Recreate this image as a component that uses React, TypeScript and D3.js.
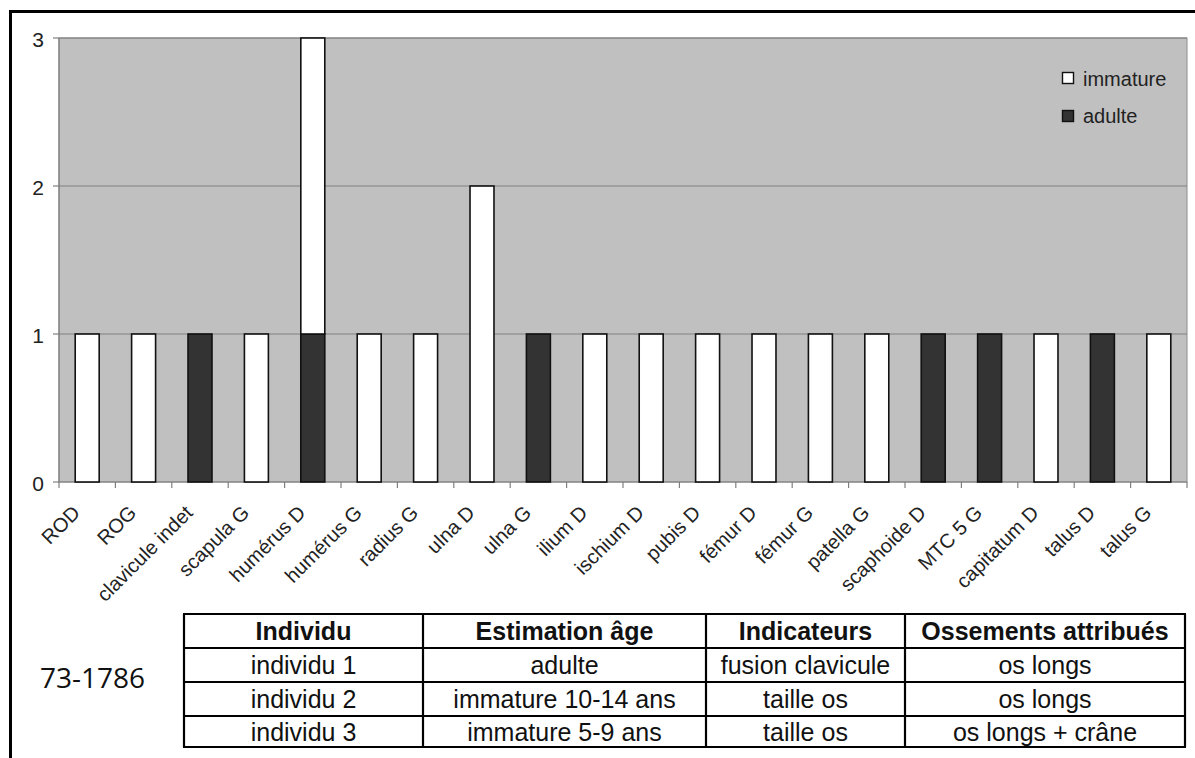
import * as d3 from 'd3';

const categories = [
  'ROD', 'ROG', 'clavicule indet', 'scapula G', 'humérus D', 'humérus G', 'radius G',
  'ulna D', 'ulna G', 'ilium D', 'ischium D', 'pubis D', 'fémur D', 'fémur G',
  'patella G', 'scaphoide D', 'MTC 5 G', 'capitatum D', 'talus D', 'talus G',
];
const adulte = [0, 0, 1, 0, 1, 0, 0, 0, 1, 0, 0, 0, 0, 0, 0, 1, 1, 0, 1, 0];
const immature = [1, 1, 0, 1, 2, 1, 1, 2, 0, 1, 1, 1, 1, 1, 1, 0, 0, 1, 0, 1];
const yTicks = [0, 1, 2, 3];

const tableHeader = ['Individu', 'Estimation âge', 'Indicateurs', 'Ossements attribués'];
const tableRows = [
  ['individu 1', 'adulte', 'fusion clavicule', 'os longs'],
  ['individu 2', 'immature 10-14 ans', 'taille os', 'os longs'],
  ['individu 3', 'immature 5-9 ans', 'taille os', 'os longs + crâne'],
];
const siteLabel = '73-1786';

const W = 1195;
const H = 758;
const plot = { left: 59, right: 1187, top: 38, bottom: 482 };
const colEdges = [184, 423, 706, 905, 1185];
const rowEdges = [614, 648, 682, 716, 747];

export default function App() {
  const x = d3.scaleBand<string>()
    .domain(categories)
    .range([plot.left, plot.right])
    .paddingInner(0.575)
    .paddingOuter(0.2875);
  const band = (plot.right - plot.left) / categories.length;
  const y = d3.scaleLinear().domain([0, 3]).range([plot.bottom, plot.top]);

  const font = 'Arial, "Liberation Sans", sans-serif';

  return (
    <svg width={W} height={H} style={{ position: 'absolute', left: 0, top: 0 }}
      fontFamily={font}>
      <rect x={0} y={0} width={W} height={H} fill="#fff" />
      {/* outer frame */}
      <rect x={10.5} y={11.5} width={W + 20} height={H + 20} fill="none" stroke="#000" strokeWidth={3} />

      {/* plot area */}
      <rect x={plot.left} y={plot.top} width={plot.right - plot.left} height={plot.bottom - plot.top}
        fill="#c0c0c0" stroke="#8c8c8c" strokeWidth={1} />
      {yTicks.filter(t => t > 0).map(t => (
        <line key={t} x1={plot.left} x2={plot.right} y1={y(t)} y2={y(t)} stroke="#808080" strokeWidth={1.2} />
      ))}

      {/* y axis */}
      <line x1={plot.left} x2={plot.left} y1={plot.top} y2={plot.bottom} stroke="#808080" strokeWidth={1.2} />
      {yTicks.map(t => (
        <g key={t}>
          <line x1={plot.left - 6} x2={plot.left} y1={y(t)} y2={y(t)} stroke="#808080" strokeWidth={1.2} />
          <text x={44} y={y(t) + 1} dy="0.36em" textAnchor="end" fontSize={21} fill="#222">{t}</text>
        </g>
      ))}

      {/* x axis */}
      <line x1={plot.left} x2={plot.right} y1={plot.bottom} y2={plot.bottom} stroke="#808080" strokeWidth={1.2} />
      {d3.range(categories.length + 1).map(i => (
        <line key={i} x1={plot.left + i * band} x2={plot.left + i * band} y1={plot.bottom} y2={plot.bottom + 6}
          stroke="#808080" strokeWidth={1.2} />
      ))}

      {/* bars */}
      {categories.map((c, i) => {
        const bx = x(c)!;
        const bw = x.bandwidth();
        return (
          <g key={c}>
            {adulte[i] > 0 && (
              <rect x={bx} y={y(adulte[i])} width={bw} height={y(0) - y(adulte[i])}
                fill="#333333" stroke="#111" strokeWidth={1.6} />
            )}
            {immature[i] > 0 && (
              <rect x={bx} y={y(adulte[i] + immature[i])} width={bw}
                height={y(adulte[i]) - y(adulte[i] + immature[i])}
                fill="#ffffff" stroke="#111" strokeWidth={1.6} />
            )}
          </g>
        );
      })}

      {/* category labels */}
      {categories.map(c => {
        const cx = x(c)! + x.bandwidth() / 2;
        return (
          <text key={c} transform={`translate(${cx - 6},${plot.bottom + 32}) rotate(-45)`}
            textAnchor="end" fontSize={20} fill="#222">{c}</text>
        );
      })}

      {/* legend */}
      <rect x={1062.5} y={72.5} width={11} height={11} fill="#fff" stroke="#111" strokeWidth={1.4} />
      <text x={1083} y={86} fontSize={20} fill="#222">immature</text>
      <rect x={1062.5} y={110.5} width={11} height={11} fill="#333" stroke="#111" strokeWidth={1.4} />
      <text x={1083} y={123} fontSize={20} fill="#222">adulte</text>

      {/* site label */}
      <text x={92.5} y={678} dy="0.36em" textAnchor="middle" fontSize={28}
        fontFamily='"Open Sans", "Noto Sans", sans-serif' fill="#111">{siteLabel}</text>

      {/* table */}
      <g>
        {[tableHeader, ...tableRows].map((row, r) => (
          row.map((cell, ci) => (
            <text key={`${r}-${ci}`} x={(colEdges[ci] + colEdges[ci + 1]) / 2}
              y={(rowEdges[r] + rowEdges[r + 1]) / 2} dy="0.36em" textAnchor="middle"
              fontSize={25} fontWeight={r === 0 ? 'bold' : 'normal'} fill="#111">{cell}</text>
          ))
        ))}
        {rowEdges.map((ry, i) => (
          <line key={`r${i}`} x1={colEdges[0] - 1} x2={colEdges[colEdges.length - 1] + 1} y1={ry} y2={ry}
            stroke="#000" strokeWidth={2.2} />
        ))}
        {colEdges.map((cx, i) => (
          <line key={`c${i}`} x1={cx} x2={cx} y1={rowEdges[0]} y2={rowEdges[rowEdges.length - 1]}
            stroke="#000" strokeWidth={2.2} />
        ))}
      </g>
    </svg>
  );
}
